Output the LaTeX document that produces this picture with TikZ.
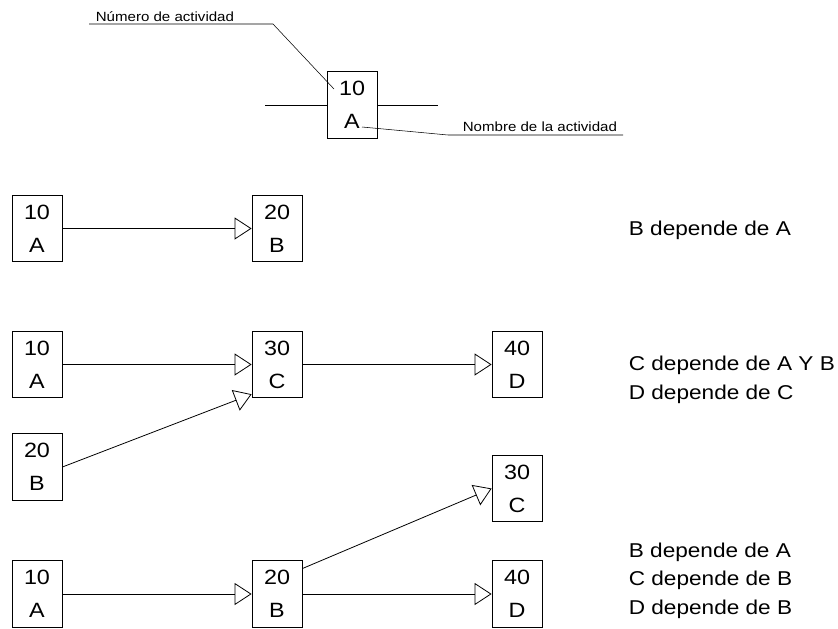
\documentclass[tikz,border=0pt]{standalone}
\usepackage{fontspec}
\setmainfont{Liberation Sans}[FakeStretch=1.13]
\usetikzlibrary{arrows.meta, positioning}

\tikzset{
  act/.style={draw, rectangle, minimum width=37.5pt, minimum height=50pt, inner sep=0pt, align=center, font=\fontsize{15.5}{24.75}\selectfont},
  dep/.style={anchor=base west, font=\fontsize{15}{18}\selectfont},
  tag/.style={anchor=base west, font=\fontsize{10}{12}\selectfont},
  link/.style={-{Triangle[open, length=12.75pt, width=16.5pt]}},
}

\begin{document}
\begin{tikzpicture}[x=0.75pt, y=-0.75pt, line width=0.6pt]
			\useasboundingbox (0,0) rectangle (838,628);
			% Legend box
			\node[act] (key) at (352,105) {10\\A};
			\coordinate (keyin) at (265,105);
			\coordinate (keyout) at (438,105);
			\draw (keyin) -- (key.west);
			\draw (key.east) -- (keyout);
			% numero
			\node[tag] (numtxt) at (91,21.5) {Número de actividad};
			\coordinate (numa) at (89,24);
			\coordinate (numb) at (273,24);
			\coordinate (numc) at (334,89);
			\draw[line width=0.4pt] (numa) -- (numb) -- (numc);
			% nombre
			\node[tag] (nomtxt) at (458,131) {Nombre de la actividad};
			\coordinate (noma) at (362,127);
			\coordinate (nomb) at (448,135);
			\coordinate (nomc) at (623,135);
			\draw[line width=0.4pt] (noma) -- (nomb) -- (nomc);
			% B depende de A
			\node[act] (a1) at (37,228.5) {10\\A};
			\node[act] (b1) at (277,228.5) {20\\B};
			\draw[link] (a1) -- (b1);
			\node[dep] (t1) at (624,235) {B depende de A};
			% C depende de A Y B
			\node[act] (a2) at (37,364.5) {10\\A};
			\node[act] (b2) at (37,467) {20\\B};
			\node[act] (c2) at (277,364.5) {30\\C};
			\node[act] (d2) at (517,364.5) {40\\D};
			\draw[link] (a2) -- (c2);
			\draw[link] (b2.east) -- ([yshift=3pt]c2.south west);
			\draw[link] (c2) -- (d2);
			\node[dep] (t2a) at (624,370) {C depende de A Y B};
			\node[dep] (t2b) at (624,399) {D depende de C};
			% C y D dependen de B
			\node[act] (a3) at (37,594) {10\\A};
			\node[act] (b3) at (277,594) {20\\B};
			\node[act] (c3) at (517,488.5) {30\\C};
			\node[act] (d3) at (517,594) {40\\D};
			\draw[link] (a3) -- (b3);
			\draw[link] ([yshift=-6.2pt]b3.north east) -- (c3.west);
			\draw[link] (b3) -- (d3);
			\node[dep] (t3a) at (624,557) {B depende de A};
			\node[dep] (t3b) at (624,585) {C depende de B};
			\node[dep] (t3c) at (624,614) {D depende de B};
		\end{tikzpicture}
\end{document}
